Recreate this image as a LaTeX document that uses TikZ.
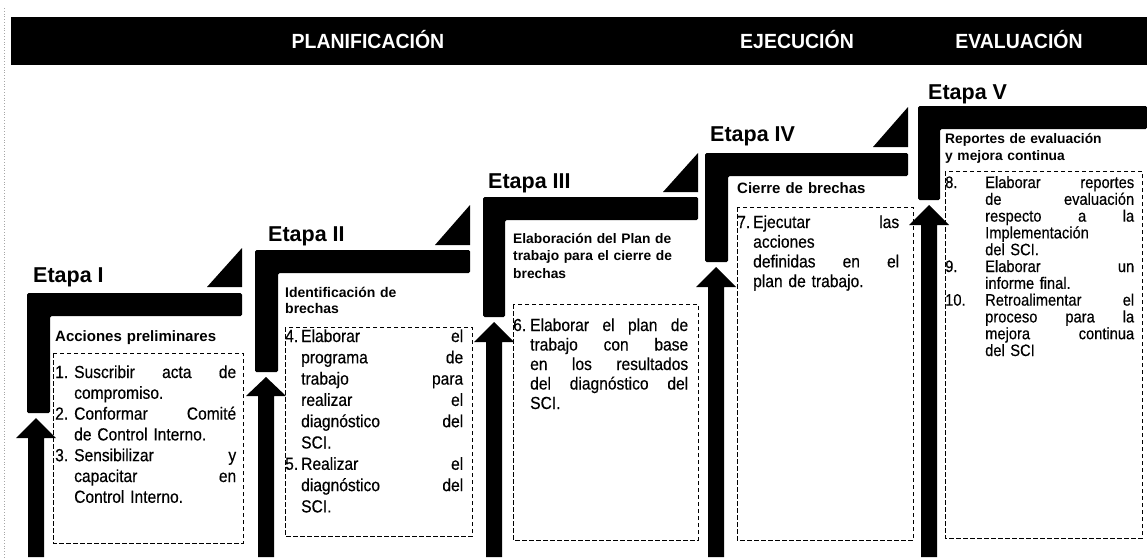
\documentclass[tikz,border=0pt]{standalone}
\usepackage{fontspec}
\setmainfont{Liberation Sans}
\newfontfamily\bodyfont{Liberation Sans}[FakeStretch=0.89,FakeBold=0.4]
\newfontfamily\hdfont{Liberation Sans}[FakeStretch=0.95]
\newlength\lw
\newlength\tw
\newcommand\jb[1]{\hbox to \dimexpr\tw-\lw\relax{\spaceskip=0.25em plus 1fil\relax #1}}
\newcommand\itJ[2]{\leavevmode\hbox to \lw{#1\hfil}\jb{#2}\par}
\newcommand\coJ[1]{\leavevmode\hspace*{\lw}\jb{#1}\par}
\newcommand\coL[1]{\leavevmode\hspace*{\lw}#1\par}
\tikzset{
  blk/.style={fill=black, draw=none},
  dbox/.style={draw=black, line width=0.9pt, dash pattern=on 4.5pt off 2.5pt},
  phase/.style={text=white, anchor=base, inner sep=0, font=\hdfont\bfseries\fontsize{20.5}{24}\selectfont},
  etapa/.style={anchor=base west, inner sep=0, font=\bfseries\fontsize{21.5}{24}\selectfont},
  stitle/.style={anchor=base west, inner sep=0, text width=200pt, align=left, font=\bfseries\fontsize{13.8}{#1}\selectfont},
  body/.style={anchor=base west, inner sep=0, text width=\tw, font=\bodyfont\fontsize{17.5}{#1}\selectfont},
  bodysm/.style={anchor=base west, inner sep=0, text width=\tw, font=\bodyfont\fontsize{16.5}{#1}\selectfont},
}
\begin{document}
\begin{tikzpicture}[x=1pt,y=-1pt]
\useasboundingbox (0,0) rectangle (1147,557);
% scan border
\draw[gray!70, line width=0.8pt, dotted] (4,8) -- (4,557);
% header
\fill[blk] (11,17) rectangle (1147,65);
\node[phase] (plan) at (368,48) {PLANIFICACIÓN};
\node[phase] (ejec) at (797,48) {EJECUCIÓN};
\node[phase] (eval) at (1019,48) {EVALUACIÓN};

% ---------- Etapa I
\fill[blk, rounded corners=1.5pt] (27,293) -- (242,293) -- (242,316) -- (50,316) -- (50,413) -- (27,413) -- cycle;
\fill[blk] (207,287) -- (242,287) -- (242,248) -- cycle;
\fill[blk] (36,418) -- (56,438) -- (44,438) -- (44,557) -- (28,557) -- (28,438) -- (16,438) -- cycle;
\node[etapa] (e1) at (33,282) {Etapa I};
\node[stitle=16, font=\bfseries\fontsize{15}{16}\selectfont] (t1) at (55,341) {Acciones preliminares};
\draw[dbox] (53,353) rectangle (243,543);
\setlength\lw{19pt}\setlength\tw{181pt}
\node[body=20.8] (b1) at (55,378) {%
\itJ{1.}{Suscribir acta de}
\coL{compromiso.}
\itJ{2.}{Conformar Comité}
\coL{de Control Interno.}
\itJ{3.}{Sensibilizar y}
\coJ{capacitar en}
\coL{Control Interno.}};

% ---------- Etapa II
\fill[blk, rounded corners=1.5pt] (255,250) -- (470,250) -- (470,273) -- (278,273) -- (278,372) -- (255,372) -- cycle;
\fill[blk] (435,245) -- (470,245) -- (470,205) -- cycle;
\fill[blk] (266,377) -- (286,396) -- (274,396) -- (274,557) -- (258,557) -- (258,396) -- (246,396) -- cycle;
\node[etapa] (e2) at (268,241) {Etapa II};
\node[stitle=16, font=\bfseries\fontsize{14}{16}\selectfont] (t2) at (285,297) {Identificación de\\brechas};
\draw[dbox] (285,327) rectangle (472,536);
\setlength\lw{16pt}\setlength\tw{178pt}
\node[body=21.3] (b2) at (285,342) {%
\itJ{4.}{Elaborar el}
\coJ{programa de}
\coJ{trabajo para}
\coJ{realizar el}
\coJ{diagnóstico del}
\coL{SCI.}
\itJ{5.}{Realizar el}
\coJ{diagnóstico del}
\coL{SCI.}};

% ---------- Etapa III
\fill[blk, rounded corners=1.5pt] (483,197) -- (698,197) -- (698,220) -- (505,220) -- (505,317) -- (483,317) -- cycle;
\fill[blk] (663,192) -- (698,192) -- (698,153) -- cycle;
\fill[blk] (494,322) -- (514,342) -- (502,342) -- (502,557) -- (486,557) -- (486,342) -- (474,342) -- cycle;
\node[etapa] (e3) at (488,188) {Etapa III};
\node[stitle=17.5] (t3) at (513,243) {Elaboración del Plan de\\trabajo para el cierre de\\brechas};
\draw[dbox] (513,304) rectangle (698,540);
\setlength\lw{17pt}\setlength\tw{175pt}
\node[body=19.5] (b3) at (513,331) {%
\itJ{6.}{Elaborar el plan de}
\coJ{trabajo con base}
\coJ{en los resultados}
\coJ{del diagnóstico del}
\coL{SCI.}};

% ---------- Etapa IV
\fill[blk, rounded corners=1.5pt] (705,153) -- (908,153) -- (908,176) -- (728,176) -- (728,262) -- (705,262) -- cycle;
\fill[blk] (873,147) -- (908,147) -- (908,107) -- cycle;
\fill[blk] (716,267) -- (736,287) -- (724,287) -- (724,557) -- (708,557) -- (708,287) -- (696,287) -- cycle;
\node[etapa] (e4) at (710,141) {Etapa IV};
\node[stitle=16, font=\bfseries\fontsize{15}{16}\selectfont] (t4) at (737,193) {Cierre de brechas};
\draw[dbox] (737,207) rectangle (913,540);
\setlength\lw{16pt}\setlength\tw{162pt}
\node[body=19.7] (b4) at (737,228) {%
\itJ{7.}{Ejecutar las}
\coL{acciones}
\coJ{definidas en el}
\coL{plan de trabajo.}};

% ---------- Etapa V
\fill[blk, rounded corners=1.5pt] (918,106) -- (1147,106) -- (1147,129) -- (940,129) -- (940,200) -- (918,200) -- cycle;
\fill[blk] (929,205) -- (949,225) -- (937,225) -- (937,557) -- (921,557) -- (921,225) -- (909,225) -- cycle;
\node[etapa] (e5) at (928,99) {Etapa V};
\node[stitle=17] (t5) at (945,143) {Reportes de evaluación\\y mejora continua};
\draw[dbox] (945,171) rectangle (1142,538);
\setlength\lw{40pt}\setlength\tw{189pt}
\node[bodysm=16.8] (b5) at (945,188) {%
\itJ{8.}{Elaborar reportes}
\coJ{de evaluación}
\coJ{respecto a la}
\coL{Implementación}
\coL{del SCI.}
\itJ{9.}{Elaborar un}
\coL{informe final.}
\itJ{10.}{Retroalimentar el}
\coJ{proceso para la}
\coJ{mejora continua}
\coL{del SCI}};
\end{tikzpicture}
\end{document}
